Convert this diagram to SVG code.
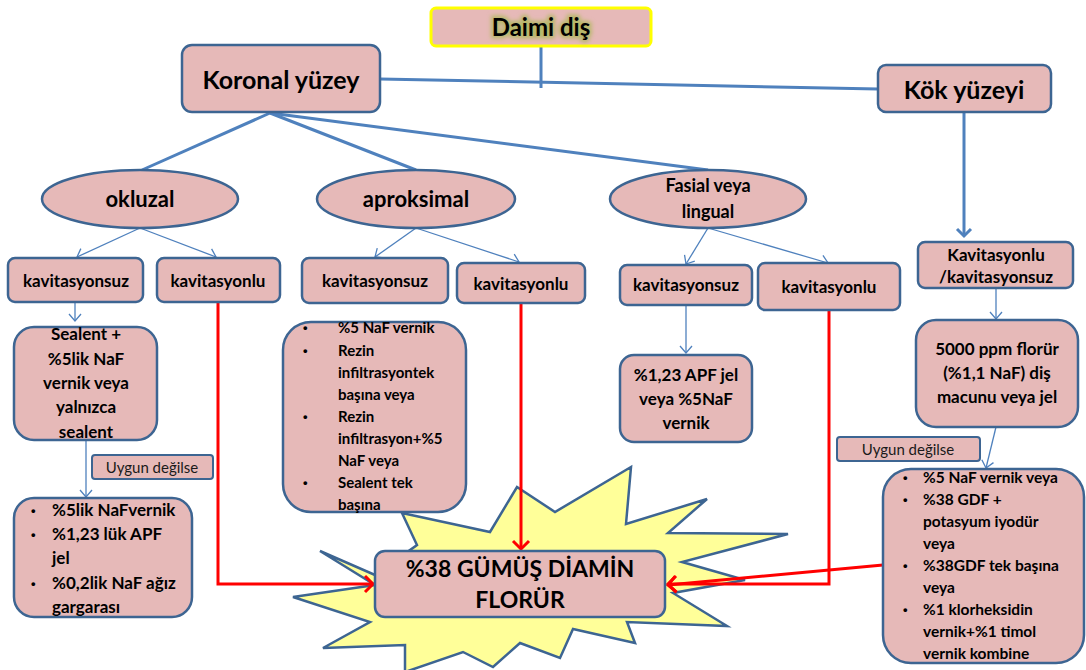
<svg xmlns="http://www.w3.org/2000/svg" width="1086" height="670" viewBox="0 0 1086 670">
<style>
.box{fill:#e6b9b8;stroke:#3d6592;stroke-width:2.5}
.t{font-family:Lato,"Open Sans",sans-serif;font-weight:bold;fill:#000}
.c{text-anchor:middle}
.b{font-family:"Liberation Sans",Arial,sans-serif;font-weight:bold;font-size:13px}
.n{font-family:Lato,"Open Sans",sans-serif;font-weight:normal;fill:#1a1a1a}
.thick{stroke:#4f81bd;stroke-width:3;fill:none}
.thin{stroke:#4f81bd;stroke-width:1.3;fill:none}
.red{stroke:#ff0000;stroke-width:3;fill:none}
</style>
<defs>
<marker id="ab" markerUnits="userSpaceOnUse" markerWidth="16" markerHeight="16" refX="8" refY="8" orient="auto" viewBox="0 0 16 16">
<path d="M1,2 L8,8 L1,14" fill="none" stroke="#4f81bd" stroke-width="1.3"/>
</marker>
<marker id="abk" markerUnits="userSpaceOnUse" markerWidth="20" markerHeight="20" refX="10" refY="10" orient="auto" viewBox="0 0 20 20">
<path d="M3,3 L10,10 L3,17" fill="none" stroke="#4f81bd" stroke-width="3"/>
</marker>
<marker id="ar" markerUnits="userSpaceOnUse" markerWidth="20" markerHeight="20" refX="10" refY="10" orient="auto" viewBox="0 0 20 20">
<path d="M2,2 L10,10 L2,18" fill="none" stroke="#ff0000" stroke-width="3"/>
</marker>
<filter id="glow" x="-20%" y="-50%" width="140%" height="200%">
<feGaussianBlur stdDeviation="2"/>
</filter>
</defs>

<g id="star">
<polygon points="320,551 375,575 417,545 402,513 490,532 517,487 555,512 631,467 626,524 707,499 668,533 788,534 682,562 745,580 673,593 727,626 627,622 635,643 573,629 560,658 520,643 493,667 463,652 405,672 405,645 323,648 370,622 293,597 375,585" fill="#ffff99" stroke="#3d6592" stroke-width="2.5" stroke-linejoin="miter"/>
</g>

<g id="connectors">
<line class="thick" x1="541" y1="46" x2="541" y2="88"/>
<line class="thick" x1="380" y1="79" x2="878" y2="89"/>
<line class="thick" x1="270" y1="113" x2="142" y2="170"/>
<line class="thick" x1="270" y1="113" x2="416" y2="170"/>
<line class="thick" x1="270" y1="113" x2="708" y2="170"/>
<line class="thick" x1="964" y1="112" x2="964" y2="236" marker-end="url(#abk)"/>
<line class="thin" x1="140" y1="228" x2="77" y2="257" marker-end="url(#ab)"/>
<line class="thin" x1="140" y1="228" x2="216" y2="257" marker-end="url(#ab)"/>
<line class="thin" x1="416" y1="228" x2="375" y2="257" marker-end="url(#ab)"/>
<line class="thin" x1="416" y1="228" x2="519" y2="262" marker-end="url(#ab)"/>
<line class="thin" x1="708" y1="228" x2="686" y2="264" marker-end="url(#ab)"/>
<line class="thin" x1="708" y1="228" x2="828" y2="263" marker-end="url(#ab)"/>
<line class="thin" x1="75" y1="302" x2="75" y2="321" marker-end="url(#ab)"/>
<line class="thin" x1="86" y1="440" x2="86" y2="497" marker-end="url(#ab)"/>
<line class="thin" x1="686" y1="305" x2="686" y2="353" marker-end="url(#ab)"/>
<line class="thin" x1="996" y1="288" x2="996" y2="319" marker-end="url(#ab)"/>
<line class="thin" x1="996" y1="427" x2="986" y2="468" marker-end="url(#ab)"/>
<polyline class="red" points="218,302 218,584 373,584" marker-end="url(#ar)"/>
<line class="red" x1="521" y1="303" x2="521" y2="549" marker-end="url(#ar)"/>
<polyline class="red" points="829,310 829,584 668,584" marker-end="url(#ar)"/>
<line class="red" stroke-width="4" x1="883" y1="565" x2="668" y2="585" marker-end="url(#ar)"/>
</g>

<g id="daimi">
<rect x="431" y="8" width="220" height="38" rx="5" fill="#e6b9b8" stroke="#ffff00" stroke-width="3"/>
<text class="t c" x="541" y="36" font-size="24" fill="none" stroke="#b8b86a" stroke-width="5" filter="url(#glow)">Daimi diş</text>
<text class="t c" x="541" y="36" font-size="24">Daimi diş</text>
</g>

<g id="koronal">
<rect class="box" x="182" y="45" width="198" height="67" rx="10"/>
<text class="t c" x="281" y="89" font-size="25">Koronal yüzey</text>
</g>

<g id="kok">
<rect class="box" x="878" y="65" width="173" height="47" rx="8"/>
<text class="t c" x="964" y="99" font-size="25">Kök yüzeyi</text>
</g>

<g id="okluzal">
<ellipse class="box" cx="140" cy="199" rx="98" ry="29"/>
<text class="t c" x="140" y="207" font-size="22">okluzal</text>
</g>

<g id="aproksimal">
<ellipse class="box" cx="416" cy="199" rx="99" ry="29"/>
<text class="t c" x="416" y="207" font-size="22">aproksimal</text>
</g>

<g id="fasial">
<ellipse class="box" cx="708" cy="199" rx="98" ry="29"/>
<text class="t c" x="708" y="192" font-size="18">Fasial veya</text>
<text class="t c" x="708" y="218" font-size="18">lingual</text>
</g>

<g id="kavsuz1">
<rect class="box" x="8" y="258" width="135" height="44" rx="7"/>
<text class="t c" x="76" y="287" font-size="17">kavitasyonsuz</text>
</g>
<g id="kavlu1">
<rect class="box" x="157" y="258" width="123" height="44" rx="7"/>
<text class="t c" x="218" y="287" font-size="17">kavitasyonlu</text>
</g>
<g id="kavsuz2">
<rect class="box" x="302" y="258" width="146" height="45" rx="7"/>
<text class="t c" x="375" y="287" font-size="17">kavitasyonsuz</text>
</g>
<g id="kavlu2">
<rect class="box" x="457" y="263" width="128" height="40" rx="7"/>
<text class="t c" x="521" y="290" font-size="17">kavitasyonlu</text>
</g>
<g id="kavsuz3">
<rect class="box" x="620" y="265" width="132" height="40" rx="7"/>
<text class="t c" x="686" y="291" font-size="17">kavitasyonsuz</text>
</g>
<g id="kavlu3">
<rect class="box" x="758" y="263" width="142" height="47" rx="7"/>
<text class="t c" x="829" y="293" font-size="17">kavitasyonlu</text>
</g>
<g id="kavkok">
<rect class="box" x="918" y="242" width="155" height="46" rx="7"/>
<text class="t c" x="996" y="261" font-size="17">Kavitasyonlu</text>
<text class="t c" x="996" y="283" font-size="17">/kavitasyonsuz</text>
</g>

<g id="sealent">
<rect class="box" x="14" y="327" width="143" height="113" rx="20"/>
<text class="t c" x="86" y="340" font-size="17">Sealent +</text>
<text class="t c" x="86" y="365" font-size="17">%5lik NaF</text>
<text class="t c" x="86" y="389" font-size="17">vernik veya</text>
<text class="t c" x="86" y="413" font-size="17">yalnızca</text>
<text class="t c" x="86" y="438" font-size="17">sealent</text>
</g>

<g id="uygun1">
<rect x="92" y="455" width="121" height="24" rx="3" fill="#e6b9b8" stroke="#3d6592" stroke-width="2"/>
<text class="n c" x="152" y="473" font-size="15">Uygun değilse</text>
</g>

<g id="list1">
<rect class="box" x="14" y="498" width="178" height="119" rx="20"/>
<text class="b" x="31" y="515">•</text>
<text class="t" x="52" y="516" font-size="17">%5lik NaFvernik</text>
<text class="b" x="31" y="539">•</text>
<text class="t" x="52" y="540" font-size="17">%1,23 lük APF</text>
<text class="t" x="52" y="564" font-size="17">jel</text>
<text class="b" x="31" y="588">•</text>
<text class="t" x="52" y="589" font-size="17">%0,2lik NaF ağız</text>
<text class="t" x="52" y="613" font-size="17">gargarası</text>
</g>

<g id="list2">
<rect class="box" x="283" y="322" width="183" height="190" rx="28"/>
<text class="b" x="303" y="332">•</text>
<text class="t" x="338" y="333" font-size="15">%5 NaF vernik</text>
<text class="b" x="303" y="355">•</text>
<text class="t" x="338" y="356" font-size="15">Rezin</text>
<text class="t" x="338" y="378" font-size="15">infiltrasyontek</text>
<text class="t" x="338" y="400" font-size="15">başına veya</text>
<text class="b" x="303" y="421">•</text>
<text class="t" x="338" y="422" font-size="15">Rezin</text>
<text class="t" x="338" y="444" font-size="15">infiltrasyon+%5</text>
<text class="t" x="338" y="466" font-size="15">NaF veya</text>
<text class="b" x="303" y="487">•</text>
<text class="t" x="338" y="488" font-size="15">Sealent tek</text>
<text class="t" x="338" y="510" font-size="15">başına</text>
</g>

<g id="apf">
<rect class="box" x="620" y="355" width="132" height="87" rx="14"/>
<text class="t c" x="686" y="381" font-size="17">%1,23 APF jel</text>
<text class="t c" x="686" y="405" font-size="17">veya %5NaF</text>
<text class="t c" x="686" y="429" font-size="17">vernik</text>
</g>

<g id="ppm">
<rect class="box" x="916" y="320" width="162" height="107" rx="20"/>
<text class="t c" x="997" y="355" font-size="17">5000 ppm florür</text>
<text class="t c" x="997" y="379" font-size="17">(%1,1 NaF) diş</text>
<text class="t c" x="997" y="403" font-size="17">macunu veya jel</text>
</g>

<g id="uygun2">
<rect x="837" y="437" width="143" height="24" rx="3" fill="#e6b9b8" stroke="#3d6592" stroke-width="2"/>
<text class="n c" x="908" y="455" font-size="15">Uygun değilse</text>
</g>

<g id="list3">
<rect class="box" x="883" y="469" width="201" height="194" rx="28"/>
<text class="b" x="903" y="482">•</text>
<text class="t" x="923" y="483" font-size="15.5">%5 NaF vernik veya</text>
<text class="b" x="903" y="504">•</text>
<text class="t" x="923" y="505" font-size="15.5">%38 GDF +</text>
<text class="t" x="923" y="527" font-size="15.5">potasyum iyodür</text>
<text class="t" x="923" y="549" font-size="15.5">veya</text>
<text class="b" x="903" y="570">•</text>
<text class="t" x="923" y="571" font-size="15.5">%38GDF tek başına</text>
<text class="t" x="923" y="593" font-size="15.5">veya</text>
<text class="b" x="903" y="614">•</text>
<text class="t" x="923" y="615" font-size="15.5">%1 klorheksidin</text>
<text class="t" x="923" y="637" font-size="15.5">vernik+%1 timol</text>
<text class="t" x="923" y="659" font-size="15.5">vernik kombine</text>
</g>

<g id="gdf">
<rect class="box" x="375" y="551" width="290" height="66" rx="10"/>
<text class="t c" x="520" y="577" font-size="23">%38 GÜMÜŞ DİAMİN</text>
<text class="t c" x="520" y="608" font-size="23">FLORÜR</text>
</g>
</svg>
